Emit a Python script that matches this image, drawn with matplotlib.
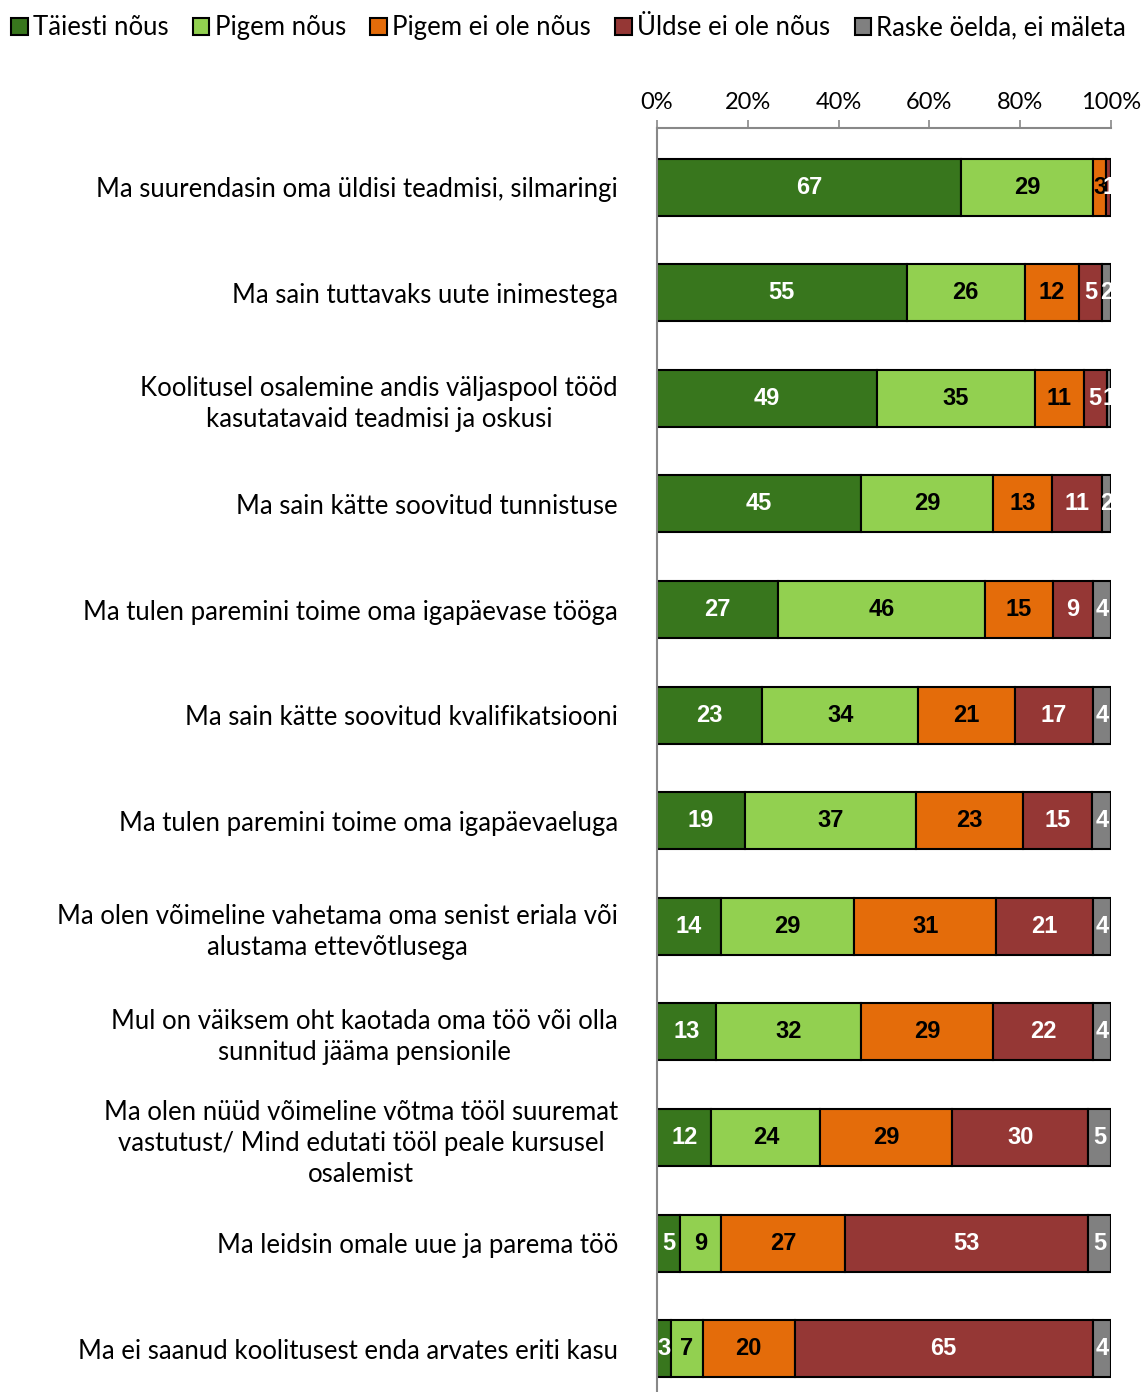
import matplotlib
matplotlib.use("Agg")
import matplotlib.pyplot as plt
import numpy as np

plt.rcParams.update({
    "font.family": ["Lato", "DejaVu Sans"],
    "font.size": 14,
})

categories = [
    "Ma suurendasin oma üldisi teadmisi, silmaringi",
    "Ma sain tuttavaks uute inimestega",
    "Koolitusel osalemine andis väljaspool tööd\nkasutatavaid teadmisi ja oskusi",
    "Ma sain kätte soovitud tunnistuse",
    "Ma tulen paremini toime oma igapäevase tööga",
    "Ma sain kätte soovitud kvalifikatsiooni",
    "Ma tulen paremini toime oma igapäevaeluga",
    "Ma olen võimeline vahetama oma senist eriala või\nalustama ettevõtlusega",
    "Mul on väiksem oht kaotada oma töö või olla\nsunnitud jääma pensionile",
    "Ma olen nüüd võimeline võtma tööl suuremat\nvastutust/ Mind edutati tööl peale kursusel\nosalemist",
    "Ma leidsin omale uue ja parema töö",
    "Ma ei saanud koolitusest enda arvates eriti kasu",
]
series_names = ["Täiesti nõus", "Pigem nõus", "Pigem ei ole nõus",
                "Üldse ei ole nõus", "Raske öelda, ei mäleta"]
taiesti = [67, 55, 49, 45, 27, 23, 19, 14, 13, 12, 5, 3]
pigem = [29, 26, 35, 29, 46, 34, 37, 29, 32, 24, 9, 7]
pigem_ei = [3, 12, 11, 13, 15, 21, 23, 31, 29, 29, 27, 20]
uldse_ei = [1, 5, 5, 11, 9, 17, 15, 21, 22, 30, 53, 65]
raske = [0, 2, 1, 2, 4, 4, 4, 4, 4, 5, 5, 4]

colors = ["#38761D", "#92D050", "#E46C0A", "#953735", "#808080"]
text_colors = ["white", "black", "black", "white", "white"]

data = np.array([taiesti, pigem, pigem_ei, uldse_ei, raske], dtype=float)
shares = data / data.sum(axis=0) * 100

fig = plt.figure(figsize=(11.48, 13.92), dpi=100)
ax = fig.add_axes([657 / 1148, 0, (1111 - 657) / 1148, 1 - 128 / 1392])

y = np.arange(len(categories))
left = np.zeros(len(categories))
handles = []
for i, name in enumerate(series_names):
    bars = ax.barh(y, shares[i], left=left, height=0.54, color=colors[i],
                   edgecolor="black", linewidth=1.5, label=name)
    handles.append(bars)
    for j, b in enumerate(bars):
        v = data[i, j]
        if v > 0:
            ax.text(left[j] + shares[i, j] / 2, y[j], f"{int(v)}",
                    ha="center", va="center", fontsize=17, fontweight="bold",
                    family="Liberation Sans", color=text_colors[i])
    left += shares[i]

ax.set_xlim(0, 100)
ax.set_ylim(11.41, -0.56)
ax.xaxis.tick_top()
ax.set_xticks([0, 20, 40, 60, 80, 100])
ax.set_xticklabels([f"{t}%" for t in range(0, 101, 20)], fontsize=17)
ax.tick_params(axis="x", length=6, color="#888888", width=1.2, pad=5)
ax.set_yticks(y)
ax.set_yticklabels(categories, fontsize=18.5, multialignment="center",
                   linespacing=1.3)
ax.tick_params(axis="y", length=0, pad=28)
for s in ["right", "bottom"]:
    ax.spines[s].set_visible(False)
ax.spines["top"].set_color("#888888")
ax.spines["left"].set_color("#888888")
ax.spines["top"].set_linewidth(1.5)
ax.spines["left"].set_linewidth(1.5)

fig.legend(handles=handles, loc="upper left", bbox_to_anchor=(-0.004, 1.0),
           ncol=5, frameon=False, fontsize=18.5, handlelength=0.65,
           handleheight=0.65, handletextpad=0.2, columnspacing=0.95,
           borderaxespad=0.2)

fig.savefig("out.png", dpi=100)
